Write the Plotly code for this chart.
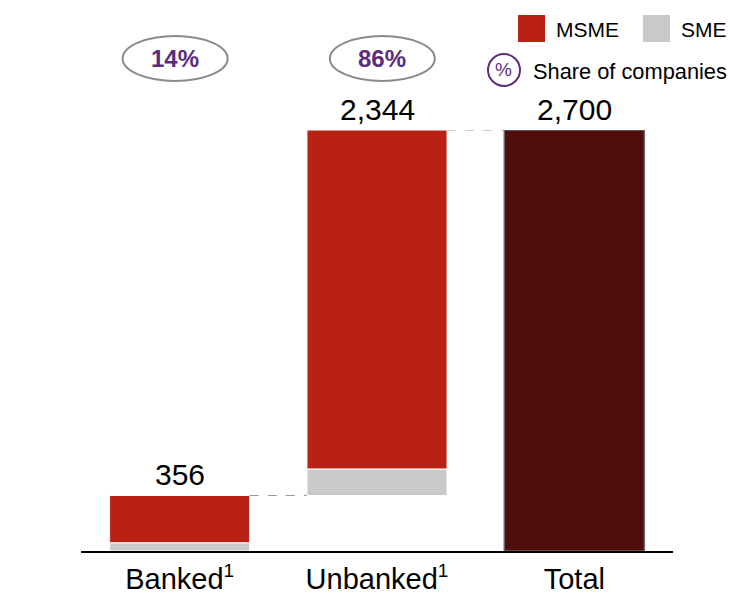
import plotly.graph_objects as go

SUP = "<sup><span style='font-size:19px'>1</span></sup>"
categories = ["Banked" + SUP, "Unbanked" + SUP, "Total"]
steps = categories[:2]
sme_values = [53, 170]
msme_values = [303, 2174]
step_totals = [356, 2344]
total_value = 2700
total_labels = ["356", "2,344", "2,700"]
share_labels = ["14%", "86%"]

RED = "#BA2115"
GREY = "#C9C9C9"
DARK = "#500F0D"
PURPLE = "#5C2D7D"
FONT = "Liberation Sans, Arial, sans-serif"

# bases for the waterfall
bases = [0]
for v in step_totals[:-1]:
    bases.append(bases[-1] + v)
sme_base = bases
msme_base = [b + s for b, s in zip(bases, sme_values)]

W = 0.71
fig = go.Figure()
fig.add_trace(go.Bar(x=steps, y=sme_values, base=sme_base, width=W,
                     marker=dict(color=GREY, line=dict(color="white", width=1)),
                     name="SME", hoverinfo="skip"))
fig.add_trace(go.Bar(x=steps, y=msme_values, base=msme_base, width=W,
                     marker=dict(color=RED, line=dict(color="white", width=1)),
                     name="MSME", hoverinfo="skip"))
fig.add_trace(go.Bar(x=["Total"], y=[total_value], base=[0], width=W,
                     marker=dict(color=DARK, line=dict(color="#6a6a6a", width=1.5)),
                     name="Total", hoverinfo="skip"))

# value labels
tops = [bases[i] + step_totals[i] for i in range(len(steps))] + [total_value]
for i, (c, t, lab) in enumerate(zip(categories, tops, total_labels)):
    fig.add_annotation(x=c, y=t, text=lab, showarrow=False, yanchor="bottom",
                       xanchor="center", yshift=2,
                       font=dict(family=FONT, size=30, color="black"))

# connectors
shapes = []
for i in range(len(categories) - 1):
    shapes.append(dict(type="line", xref="x", yref="y",
                       x0=i + W / 2, x1=i + 1 - W / 2, y0=tops[i], y1=tops[i],
                       line=dict(color="#999999", width=1, dash="dash")))

def px_x(p):
    return (p - 81) / 592

def px_y(p):
    return (551 - p) / 421

# share ovals
oval_offsets = [-0.023, 0.027]
for i, lab in enumerate(share_labels):
    c = i + oval_offsets[i]
    shapes.append(dict(type="circle", xref="x", yref="paper",
                       x0=c - 0.266, x1=c + 0.266, y0=px_y(81), y1=px_y(36),
                       line=dict(color="#8a8a8a", width=2), fillcolor="white"))
    fig.add_annotation(x=c, y=px_y(58), xref="x", yref="paper", text="<b>" + lab + "</b>",
                       xanchor="center", yanchor="middle",
                       showarrow=False, font=dict(family=FONT, size=24, color=PURPLE))

# legend
shapes.append(dict(type="rect", xref="paper", yref="paper",
                   x0=px_x(518), x1=px_x(545), y0=px_y(42), y1=px_y(15),
                   fillcolor=RED, line=dict(width=0)))
shapes.append(dict(type="rect", xref="paper", yref="paper",
                   x0=px_x(643), x1=px_x(670), y0=px_y(42), y1=px_y(15),
                   fillcolor=GREY, line=dict(width=0)))
fig.add_annotation(x=px_x(554), y=px_y(29), xref="paper", yref="paper", text="MSME",
                   xanchor="left", yanchor="middle", showarrow=False,
                   font=dict(family=FONT, size=21, color="black"))
fig.add_annotation(x=px_x(679), y=px_y(29), xref="paper", yref="paper", text="SME",
                   xanchor="left", yanchor="middle", showarrow=False,
                   font=dict(family=FONT, size=21, color="black"))
shapes.append(dict(type="circle", xref="paper", yref="paper",
                   x0=px_x(488), x1=px_x(520), y0=px_y(86), y1=px_y(54),
                   line=dict(color=PURPLE, width=2)))
fig.add_annotation(x=px_x(504), y=px_y(70), xref="paper", yref="paper", text="%",
                   xanchor="center", yanchor="middle", showarrow=False,
                   font=dict(family=FONT, size=19, color=PURPLE))
fig.add_annotation(x=px_x(531), y=px_y(71), xref="paper", yref="paper", text="Share of companies",
                   xanchor="left", yanchor="middle", showarrow=False,
                   font=dict(family=FONT, size=21.8, color="black"))

fig.update_layout(
    width=730, height=594,
    margin=dict(l=81, r=57, t=130, b=43),
    paper_bgcolor="white", plot_bgcolor="white",
    barmode="overlay", showlegend=False,
    shapes=shapes,
    font=dict(family=FONT),
)
fig.update_xaxes(categoryorder="array", categoryarray=categories, range=[-0.5, 2.5],
                 showline=True, linecolor="black", linewidth=2, showgrid=False,
                 ticks="", tickfont=dict(family=FONT, size=29, color="black"),
                 ticklabelstandoff=1, automargin=False)
fig.update_yaxes(range=[0, total_value], visible=False, showgrid=False, zeroline=False,
                 automargin=False)

fig.write_html("out.html")
